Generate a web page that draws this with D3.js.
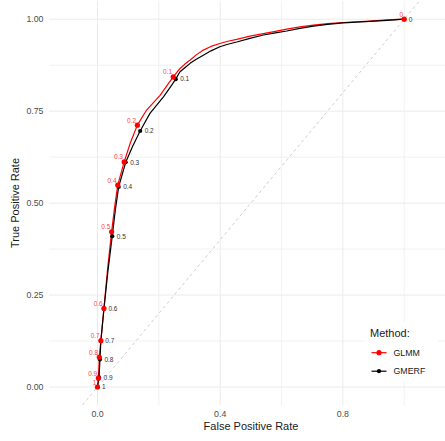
<!DOCTYPE html>
<html><head><meta charset="utf-8">
<script src="https://cdn.jsdelivr.net/npm/d3@7"></script>
<style>body{margin:0;background:#fff}svg{display:block;font-family:"Liberation Sans",Arial,sans-serif}</style>
</head><body><svg id="c" width="445" height="441"></svg>
<script>
const methods = ["GLMM", "GMERF"];
const methodColors = ["#FF0000", "#000000"];
const xTicks = [0, 0.4, 0.8];
const xMinor = [0.2, 0.6, 1.0];
const yTicks = [0, 0.25, 0.5, 0.75, 1];
const yMinor = [0.125, 0.375, 0.625, 0.875];
const xTickLabels = ["0.0", "0.4", "0.8"];
const yTickLabels = ["0.00", "0.25", "0.50", "0.75", "1.00"];

// ROC curves (FPR, TPR)
const glmmFPR = [0, 0.003, 0.006, 0.011, 0.021, 0.033, 0.046, 0.056, 0.066, 0.087, 0.108, 0.130, 0.160, 0.204, 0.231, 0.247, 0.269, 0.285, 0.302, 0.322, 0.345, 0.370, 0.399, 0.425, 0.454, 0.497, 0.541, 0.580, 0.617, 0.660, 0.704, 0.750, 0.801, 0.845, 0.888, 0.945, 1];
const glmmTPR = [0, 0.024, 0.081, 0.126, 0.214, 0.322, 0.422, 0.490, 0.549, 0.612, 0.666, 0.712, 0.753, 0.793, 0.825, 0.843, 0.866, 0.878, 0.889, 0.903, 0.916, 0.926, 0.934, 0.940, 0.945, 0.954, 0.961, 0.967, 0.973, 0.979, 0.984, 0.988, 0.991, 0.993, 0.995, 0.998, 1];
const gmerfFPR = [0, 0.005, 0.008, 0.011, 0.021, 0.034, 0.048, 0.058, 0.069, 0.092, 0.115, 0.139, 0.171, 0.215, 0.242, 0.255, 0.269, 0.285, 0.302, 0.322, 0.345, 0.370, 0.399, 0.425, 0.454, 0.497, 0.541, 0.580, 0.617, 0.660, 0.704, 0.750, 0.801, 0.845, 0.888, 0.945, 1];
const gmerfTPR = [0, 0.026, 0.075, 0.125, 0.212, 0.315, 0.410, 0.480, 0.544, 0.611, 0.655, 0.696, 0.744, 0.789, 0.821, 0.837, 0.857, 0.868, 0.880, 0.891, 0.902, 0.914, 0.925, 0.932, 0.938, 0.948, 0.957, 0.963, 0.968, 0.975, 0.981, 0.986, 0.990, 0.992, 0.994, 0.997, 1];

// threshold points
const thrLabels = ["0", "0.1", "0.2", "0.3", "0.4", "0.5", "0.6", "0.7", "0.8", "0.9", "1"];
const glmmThrFPR = [1, 0.247, 0.130, 0.087, 0.066, 0.046, 0.021, 0.011, 0.006, 0.003, 0];
const glmmThrTPR = [1, 0.843, 0.712, 0.612, 0.549, 0.422, 0.214, 0.126, 0.081, 0.024, 0];
const gmerfThrFPR = [1, 0.255, 0.139, 0.092, 0.069, 0.048, 0.021, 0.011, 0.008, 0.005, 0];
const gmerfThrTPR = [1, 0.837, 0.696, 0.611, 0.544, 0.410, 0.212, 0.125, 0.075, 0.026, 0];

const svg = d3.select("#c");
const x = d3.scaleLinear().domain([0, 1]).range([97.5, 404.2]);
const y = d3.scaleLinear().domain([0, 1]).range([387, 19.2]);
const P = {l: 49, r: 445, t: 0.8, b: 405.4};

svg.append("defs").append("clipPath").attr("id", "clip")
  .append("rect").attr("x", P.l).attr("y", P.t).attr("width", P.r - P.l).attr("height", P.b - P.t);

const grid = svg.append("g");
grid.selectAll(".vm").data(xMinor).join("line")
  .attr("x1", d => x(d)).attr("x2", d => x(d)).attr("y1", P.t).attr("y2", P.b)
  .attr("stroke", "#ededed").attr("stroke-width", 0.8);
grid.selectAll(".hm").data(yMinor).join("line")
  .attr("y1", d => y(d)).attr("y2", d => y(d)).attr("x1", P.l).attr("x2", P.r)
  .attr("stroke", "#ededed").attr("stroke-width", 0.8);
grid.selectAll(".vM").data(xTicks).join("line")
  .attr("x1", d => x(d)).attr("x2", d => x(d)).attr("y1", P.t).attr("y2", P.b)
  .attr("stroke", "#ebebeb").attr("stroke-width", 1);
grid.selectAll(".hM").data(yTicks).join("line")
  .attr("y1", d => y(d)).attr("y2", d => y(d)).attr("x1", P.l).attr("x2", P.r)
  .attr("stroke", "#ebebeb").attr("stroke-width", 1);

const plot = svg.append("g").attr("clip-path", "url(#clip)");
plot.append("line")
  .attr("x1", x(-0.5)).attr("y1", y(-0.5)).attr("x2", x(1.5)).attr("y2", y(1.5))
  .attr("stroke", "#c8c8c8").attr("stroke-width", 0.9).attr("stroke-dasharray", "3,3");

const line = d3.line().x(d => x(d[0])).y(d => y(d[1]));
const curves = [d3.zip(glmmFPR, glmmTPR), d3.zip(gmerfFPR, gmerfTPR)];
curves.forEach((c, i) => {
  plot.append("path").attr("d", line(c)).attr("fill", "none")
    .attr("stroke", methodColors[i]).attr("stroke-width", 1.2).attr("stroke-linejoin", "round");
});

const glmmPts = thrLabels.map((l, i) => ({l, fx: glmmThrFPR[i], ty: glmmThrTPR[i]}));
const gmerfPts = thrLabels.map((l, i) => ({l, fx: gmerfThrFPR[i], ty: gmerfThrTPR[i]}));

svg.append("g").selectAll("circle").data(gmerfPts).join("circle")
  .attr("cx", d => x(d.fx)).attr("cy", d => y(d.ty)).attr("r", 2.1).attr("fill", "#000");
svg.append("g").selectAll("circle").data(glmmPts).join("circle")
  .attr("cx", d => x(d.fx)).attr("cy", d => y(d.ty)).attr("r", 2.6).attr("fill", "#FF0000");

svg.append("g").selectAll("text").data(glmmPts).join("text")
  .attr("x", d => x(d.fx) - 1.2).attr("y", d => y(d.ty) - 2.5)
  .attr("text-anchor", "end").attr("font-size", 6.5).attr("fill", "#ff4747").text(d => d.l);
svg.append("g").selectAll("text").data(gmerfPts).join("text")
  .attr("x", d => x(d.fx) + 4.5).attr("y", d => y(d.ty) + 2.3)
  .attr("text-anchor", "start").attr("font-size", 6.5).attr("fill", "#333").text(d => d.l);

svg.append("g").selectAll("text").data(xTicks).join("text")
  .attr("x", d => x(d)).attr("y", 417).attr("text-anchor", "middle")
  .attr("font-size", 8.8).attr("fill", "#4d4d4d").text((d, i) => xTickLabels[i]);
svg.append("g").selectAll("text").data(yTicks).join("text")
  .attr("x", 43.5).attr("y", d => y(d) + 3.1).attr("text-anchor", "end")
  .attr("font-size", 8.8).attr("fill", "#4d4d4d").text((d, i) => yTickLabels[i]);

svg.append("text").attr("x", 251).attr("y", 429.5).attr("text-anchor", "middle")
  .attr("font-size", 11).attr("fill", "#1a1a1a").text("False Positive Rate");
svg.append("text").attr("transform", "translate(18.5,203) rotate(-90)").attr("text-anchor", "middle")
  .attr("font-size", 11).attr("fill", "#1a1a1a").text("True Positive Rate");

const lg = svg.append("g");
lg.append("rect").attr("x", 364).attr("y", 322).attr("width", 74).attr("height", 60).attr("fill", "#fff");
lg.append("text").attr("x", 370).attr("y", 337).attr("font-size", 11).attr("fill", "#1a1a1a").text("Method:");
methods.forEach((m, i) => {
  const yy = 352.7 + i * 18.5;
  lg.append("line").attr("x1", 371.5).attr("x2", 386.5).attr("y1", yy).attr("y2", yy)
    .attr("stroke", methodColors[i]).attr("stroke-width", 1.2);
  lg.append("circle").attr("cx", 379).attr("cy", yy).attr("r", i === 0 ? 2.6 : 2.1).attr("fill", methodColors[i]);
  lg.append("text").attr("x", 393.5).attr("y", yy + 3.2).attr("font-size", 8.8).attr("fill", "#1a1a1a").text(m);
});
</script></body></html>
